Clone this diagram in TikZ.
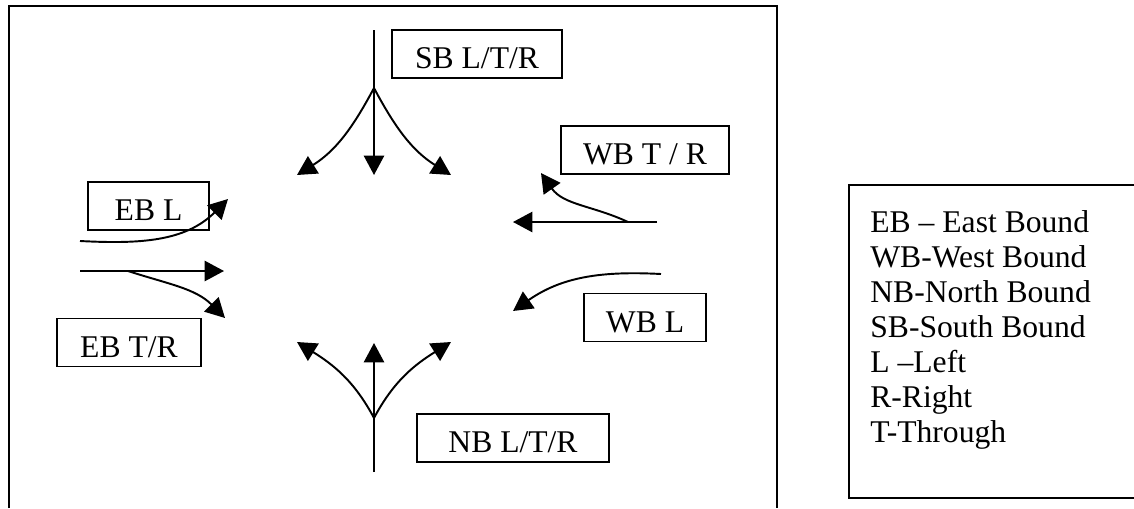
\documentclass[tikz,border=0pt]{standalone}
\usepackage{fontspec}
\setmainfont{Liberation Serif}
\usepackage{tikz}
\usetikzlibrary{arrows.meta}
\tikzset{
    lane/.style={line width=1.1pt},
    flow/.style={lane, ->},
    tag/.style={draw, line width=0.9pt, minimum height=0.96cm, inner sep=0pt,
        text height=17pt, text depth=0pt, font=\fontsize{18}{20}\selectfont},
    legtext/.style={anchor=base west, inner sep=0pt, font=\fontsize{18}{20}\selectfont}
}

\begin{document}
\begin{tikzpicture}[>={Triangle[length=11pt, width=11.5pt]}, x=0.02cm, y=-0.02cm]
    \useasboundingbox (0,0) rectangle (1134,508);
    % Outer frame (open at the bottom)
    \draw[line width=1.5pt] (9,508) -- (9,6) -- (777,6) -- (777,508);
    % Approach labels
    \node[tag, minimum width=3.4cm]  (sb)  at (477,54)    {SB L/T/R};
    \node[tag, minimum width=3.36cm] (wbtr) at (645,150)  {WB T / R};
    \node[tag, minimum width=2.42cm] (ebl)  at (148.5,206) {EB L};
    \node[tag, minimum width=2.88cm] (ebtr) at (129,342.5) {EB T/R};
    \node[tag, minimum width=3.84cm] (nb)  at (513,438)   {NB L/T/R};
    \node[tag, minimum width=2.44cm] (wbl)  at (645,317.5) {WB L};
    % Southbound
    \coordinate (sbTop)  at (374,30);
    \coordinate (sbFork) at (374,88);
    \coordinate (sbT)    at (374,175);
    \coordinate (sbW)    at (297,175);
    \coordinate (sbE)    at (451,175);
    \draw[lane] (sbTop) -- (sbFork);
    \draw[flow] (sbFork) -- (sbT);
    \draw[flow] (sbFork) to[out=-118, in=32] (sbW);
    \draw[flow] (sbFork) to[out=-62, in=148] (sbE);
    % Northbound
    \coordinate (nbBot)  at (374,472);
    \coordinate (nbFork) at (374,418);
    \coordinate (nbT)    at (374,343);
    \coordinate (nbW)    at (297,342);
    \coordinate (nbE)    at (451,342);
    \draw[lane] (nbBot) -- (nbFork);
    \draw[flow] (nbFork) -- (nbT);
    \draw[flow] (nbFork) to[out=118, in=-32] (nbW);
    \draw[flow] (nbFork) to[out=62, in=-148] (nbE);
    % Westbound
    \coordinate (wbIn)  at (657,222);
    \coordinate (wbSplit) at (628,222);
    \coordinate (wbT)   at (513,222);
    \coordinate (wbR)   at (541,173);
    \draw[flow] (wbIn) -- (wbT);
    \draw[flow] (wbSplit) to[out=155, in=-55] (wbR);
    \coordinate (wblIn) at (661,274);
    \coordinate (wblL)  at (513,311);
    \draw[flow] (wblIn) to[out=177, in=35] (wblL);
    % Eastbound
    \coordinate (eblIn) at (80,241);
    \coordinate (eblL)  at (228,199);
    \draw[flow] (eblIn) to[out=-3, in=-135] (eblL);
    \coordinate (ebIn)    at (80,271);
    \coordinate (ebSplit) at (128,271);
    \coordinate (ebT)     at (224,271);
    \coordinate (ebR)     at (225,318);
    \draw[flow] (ebIn) -- (ebT);
    \draw[flow] (ebSplit) to[out=-18, in=135] (ebR);
    % Legend
    \draw[line width=1.2pt] (1134,185) -- (849,185) -- (849,498) -- (1134,498);
    \foreach \t [count=\i] in {EB -- East Bound, WB-West Bound, NB-North Bound,
        SB-South Bound, L --Left, R-Right, T-Through}
        \node[legtext] (leg\i) at (870,{232+35*(\i-1)}) {\t};
\end{tikzpicture}
\end{document}
